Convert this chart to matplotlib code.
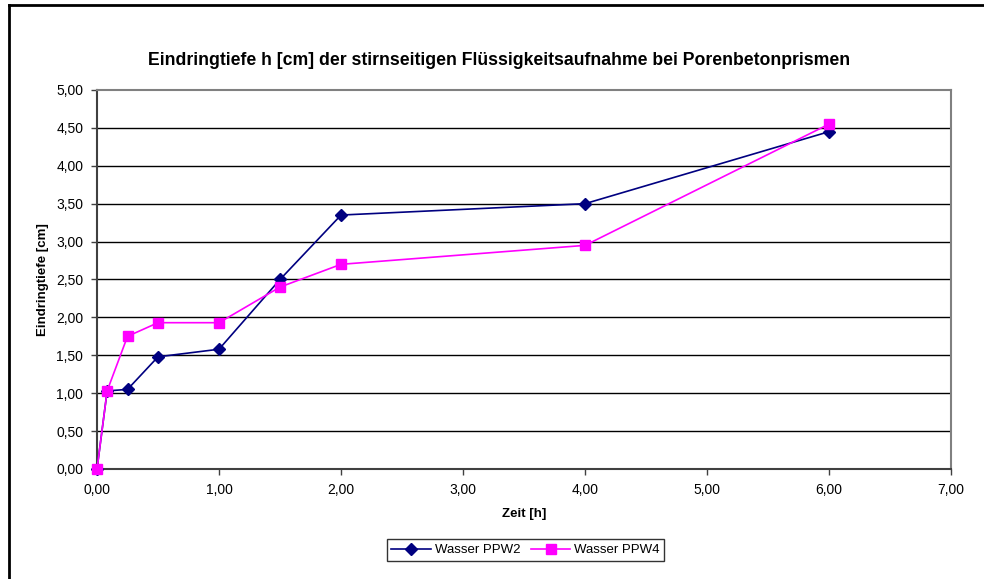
import matplotlib
matplotlib.use('Agg')
from matplotlib import pyplot as plt
from matplotlib.lines import Line2D

plt.rcParams['font.family'] = ['Liberation Sans', 'DejaVu Sans']

# data
zeit = [0, 0.083, 0.25, 0.5, 1.0, 1.5, 2.0, 4.0, 6.0]
ppw2 = [0, 1.03, 1.05, 1.48, 1.58, 2.50, 3.35, 3.50, 4.45]
ppw4 = [0, 1.03, 1.75, 1.93, 1.93, 2.40, 2.70, 2.95, 4.55]
xticks = [0, 1, 2, 3, 4, 5, 6, 7]
yticks = [0, 0.5, 1, 1.5, 2, 2.5, 3, 3.5, 4, 4.5, 5]

fig = plt.figure(figsize=(9.84, 5.79), dpi=100)
ax = fig.add_axes([0.0986, 0.19, 0.8679, 0.6546])

# outer frame (only left and top visible)
fig.add_artist(Line2D([0.009, 0.009], [0, 0.991], transform=fig.transFigure, color='black', lw=2))
fig.add_artist(Line2D([0.009, 1.0], [0.991, 0.991], transform=fig.transFigure, color='black', lw=2))

for y in yticks[1:-1]:
    ax.axhline(y, color='black', lw=1, zorder=1)

ax.plot(zeit, ppw2, color='#000080', marker='D', markersize=6, lw=1.2, label='Wasser PPW2', zorder=3, clip_on=False)
ax.plot(zeit, ppw4, color='#FF00FF', marker='s', markersize=7.5, lw=1.2, label='Wasser PPW4', zorder=4, clip_on=False)

ax.set_xlim(0, 7)
ax.set_ylim(0, 5)
ax.set_xticks(xticks)
ax.set_yticks(yticks)
ax.set_xticklabels([('%.2f' % v).replace('.', ',') for v in xticks])
ax.set_yticklabels([('%.2f' % v).replace('.', ',') for v in yticks])
ax.tick_params(axis='both', labelsize=10, length=4, width=1, color='#404040', pad=6, direction='out')

for s in ['top', 'right']:
    ax.spines[s].set_color('#808080')
    ax.spines[s].set_linewidth(1.5)
for s in ['left', 'bottom']:
    ax.spines[s].set_color('#404040')
    ax.spines[s].set_linewidth(1.5)

ax.set_xlabel('Zeit [h]', fontsize=9.5, fontweight='bold', labelpad=8)
ax.set_ylabel('Eindringtiefe [cm]', fontsize=9.5, fontweight='bold', labelpad=5)
fig.text(0.507, 0.895, 'Eindringtiefe h [cm] der stirnseitigen Flüssigkeitsaufnahme bei Porenbetonprismen',
         ha='center', va='center', fontsize=12.7, fontweight='bold')

leg = fig.legend(loc='center', bbox_to_anchor=(0.534, 0.05), ncol=2, fontsize=9.5, frameon=True,
                 fancybox=False, edgecolor='black', handlelength=3, columnspacing=0.8,
                 handletextpad=0.3, borderpad=0.35)
leg.get_frame().set_linewidth(1)

fig.savefig('out.png', dpi=100)
